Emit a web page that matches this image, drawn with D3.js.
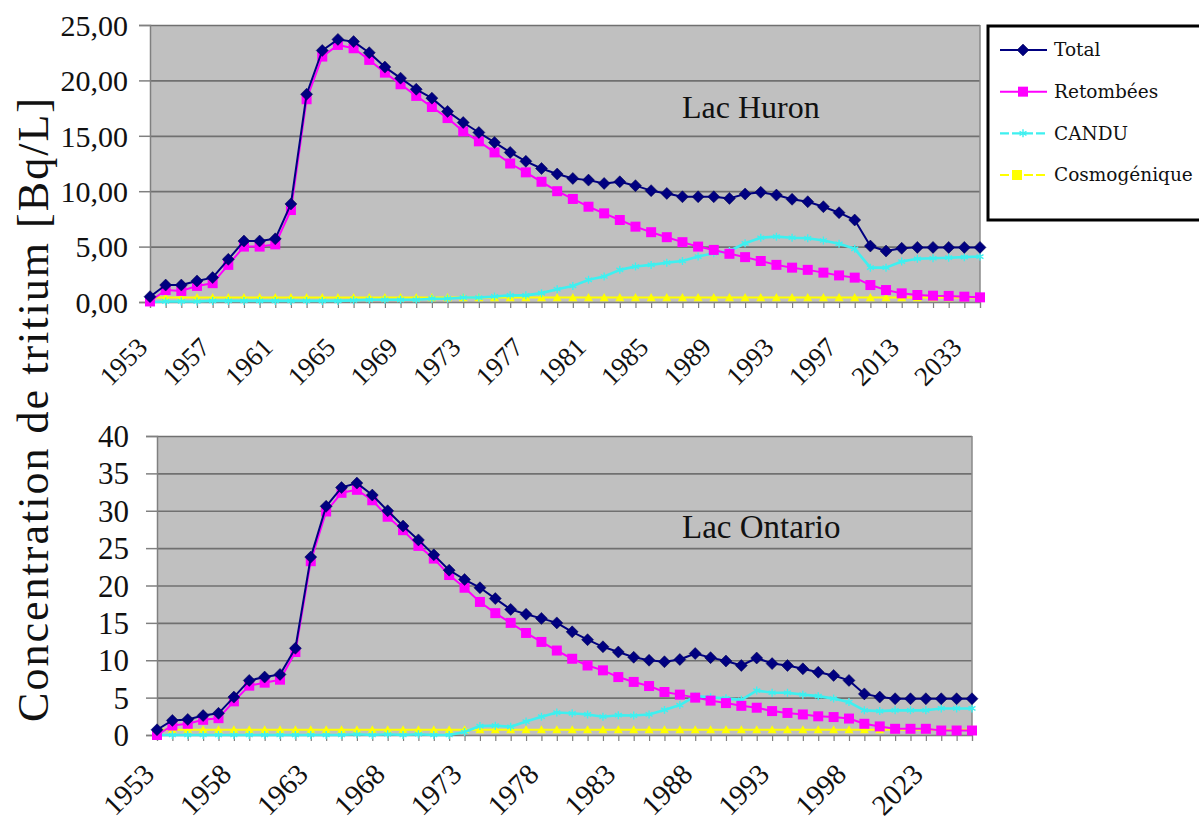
<!DOCTYPE html>
<html>
<head>
<meta charset="utf-8">
<script src="https://cdn.jsdelivr.net/npm/d3@7"></script>
<style>
  html, body { margin: 0; padding: 0; background: #ffffff; overflow: hidden; }
  svg { display: block; }
</style>
</head>
<body>
<svg id="chart" width="1199" height="829"></svg>
<script>
// ---------------- DATA ----------------
const years = ["1953","1954","1955","1956","1957","1958","1959","1960","1961","1962",
  "1963","1964","1965","1966","1967","1968","1969","1970","1971","1972",
  "1973","1974","1975","1976","1977","1978","1979","1980","1981","1982",
  "1983","1984","1985","1986","1987","1988","1989","1990","1991","1992",
  "1993","1994","1995","1996","1997","1998","2003","2008","2013","2018",
  "2023","2028","2033","2038"];

const seriesNames = ["Total", "Retombées", "CANDU", "Cosmogénique"];

// Lac Huron
const huronTotal = [0.48,1.53,1.53,1.9,2.2,3.85,5.5,5.5,5.7,8.85,
  18.75,22.7,23.7,23.5,22.5,21.2,20.2,19.2,18.4,17.2,
  16.2,15.3,14.4,13.5,12.7,12.05,11.55,11.15,11.0,10.7,
  10.85,10.5,10.05,9.8,9.5,9.5,9.5,9.35,9.75,9.9,
  9.65,9.27,9.05,8.6,8.06,7.4,5.05,4.6,4.85,4.93,
  4.93,4.93,4.93,4.93];
const huronRetombees = [0.05,1.08,1.0,1.45,1.7,3.35,5.0,5.0,5.2,8.3,
  18.3,22.15,23.2,22.9,21.85,20.7,19.65,18.6,17.6,16.6,
  15.4,14.5,13.5,12.5,11.7,10.85,10.0,9.3,8.6,8.0,
  7.4,6.8,6.3,5.85,5.4,5.0,4.7,4.35,4.05,3.7,
  3.35,3.1,2.9,2.65,2.4,2.2,1.53,1.08,0.78,0.63,
  0.57,0.55,0.48,0.42];
const huronCandu = [0,0.05,0.05,0.05,0.1,0.1,0.1,0.1,0.1,0.1,
  0.1,0.1,0.1,0.15,0.2,0.2,0.2,0.2,0.3,0.3,
  0.4,0.4,0.5,0.6,0.6,0.8,1.15,1.45,2.0,2.3,
  2.9,3.2,3.35,3.55,3.7,4.1,4.4,4.6,5.3,5.8,
  5.9,5.8,5.75,5.55,5.25,4.8,3.1,3.1,3.65,3.9,
  3.95,4.0,4.05,4.1];
const huronCosmo = [0.4,0.4,0.4,0.4,0.4,0.4,0.4,0.4,0.4,0.4,
  0.4,0.4,0.4,0.4,0.4,0.4,0.4,0.4,0.4,0.4,
  0.4,0.4,0.4,0.4,0.4,0.4,0.4,0.4,0.4,0.4,
  0.4,0.4,0.4,0.4,0.4,0.4,0.4,0.4,0.4,0.4,
  0.4,0.4,0.4,0.4,0.4,0.4,0.4,0.4,0.4,0.4,
  0.4,0.4,0.4,0.4];

// Lac Ontario
const ontarioTotal = [0.7,1.95,2.08,2.6,2.9,5.07,7.3,7.75,8.1,11.6,
  23.8,30.6,33.1,33.7,32.1,30.0,27.95,26.1,24.1,22.05,
  20.8,19.7,18.25,16.8,16.15,15.6,15.0,13.8,12.75,11.8,
  11.1,10.4,10.0,9.8,10.1,10.9,10.35,9.9,9.3,10.3,
  9.55,9.3,8.85,8.4,7.97,7.3,5.5,5.07,4.85,4.85,
  4.85,4.85,4.85,4.85];
const ontarioRetombees = [0.0,1.27,1.5,2.03,2.25,4.5,6.6,7.0,7.4,11.1,
  23.25,29.9,32.4,32.8,31.4,29.2,27.4,25.3,23.6,21.4,
  19.7,17.8,16.3,15.0,13.65,12.45,11.3,10.2,9.3,8.65,
  7.75,7.1,6.55,5.75,5.4,5.0,4.6,4.27,3.9,3.65,
  3.2,2.95,2.75,2.5,2.4,2.2,1.5,1.15,0.83,0.83,
  0.83,0.6,0.6,0.6];
const ontarioCandu = [0,0,0,0,0,0,0,0,0,0,
  0,0,0,0.1,0,0.1,0,0.1,0,0,
  0.4,1.2,1.25,1.1,1.8,2.45,3.0,2.9,2.75,2.45,
  2.65,2.6,2.75,3.35,4.0,5.2,5.05,4.9,4.7,5.95,
  5.65,5.65,5.4,5.2,4.87,4.4,3.3,3.2,3.3,3.3,
  3.3,3.55,3.55,3.55];
const ontarioCosmo = [0.7,0.7,0.7,0.7,0.7,0.7,0.7,0.7,0.7,0.7,
  0.7,0.7,0.7,0.7,0.7,0.7,0.7,0.7,0.7,0.7,
  0.7,0.7,0.7,0.7,0.7,0.7,0.7,0.7,0.7,0.7,
  0.7,0.7,0.7,0.7,0.7,0.7,0.7,0.7,0.7,0.7,
  0.7,0.7,0.7,0.7,0.7,0.7,0.7,0.7,0.7,0.7,
  0.7,0.7,0.7,0.7];

const huronYTicks = [0, 5, 10, 15, 20, 25];
const ontarioYTicks = [0, 5, 10, 15, 20, 25, 30, 35, 40];
const huronXLabelEvery = 4;
const ontarioXLabelEvery = 5;

const yTitle = "Concentration de tritium [Bq/L]";

// ---------------- STYLE ----------------
const colors = { "Total": "#000080", "Retombées": "#ff00ff", "CANDU": "#3ef0f0", "Cosmogénique": "#ffff00" };
const serif = "'Liberation Serif', 'Times New Roman', serif";

const svg = d3.select("#chart");

function diamondPath(r) { return `M0,${-r}L${r},0L0,${r}L${-r},0Z`; }
function squarePath(r) { return `M${-r},${-r}H${r}V${r}H${-r}Z`; }
function trianglePath(r) { return `M0,${-r}L${r},${r*0.8}L${-r},${r*0.8}Z`; }
function starPath(r) {
  const a = r * 0.866, b = r * 0.5;
  return `M0,${-r}V${r}M${-a},${-b}L${a},${b}M${-a},${b}L${a},${-b}`;
}

function drawMarker(g, name, x, y, legend) {
  if (name === "Total") {
    g.append("path").attr("d", diamondPath(6)).attr("transform", `translate(${x},${y})`)
      .attr("fill", colors[name]).attr("stroke", "#000050").attr("stroke-width", 0.5);
  } else if (name === "Retombées") {
    g.append("path").attr("d", squarePath(5)).attr("transform", `translate(${x},${y})`)
      .attr("fill", colors[name]);
  } else if (name === "CANDU") {
    g.append("path").attr("d", starPath(4)).attr("transform", `translate(${x},${y})`)
      .attr("fill", "none").attr("stroke", colors[name]).attr("stroke-width", 1.4);
  } else {
    g.append("path").attr("d", legend ? squarePath(5) : trianglePath(4.5)).attr("transform", `translate(${x},${y})`)
      .attr("fill", colors[name]);
  }
}

function drawPanel(cfg) {
  const x = d3.scalePoint().domain(years).range([cfg.x0, cfg.x1]);
  const y = d3.scaleLinear().domain([0, cfg.yMax]).range([cfg.yBottom, cfg.yTop]);
  const g = svg.append("g");

  g.append("rect").attr("x", cfg.x0).attr("y", cfg.yTop)
    .attr("width", cfg.x1 - cfg.x0).attr("height", cfg.yBottom - cfg.yTop)
    .attr("fill", "#c0c0c0");

  const grid = g.append("g").attr("transform", `translate(${cfg.x0},0)`)
    .call(d3.axisLeft(y).tickValues(cfg.yTicks).tickSize(-(cfg.x1 - cfg.x0)).tickFormat(""));
  grid.select(".domain").remove();
  grid.selectAll("line").attr("stroke", "#707070").attr("stroke-width", 1.7);

  g.append("line").attr("x1", cfg.x1).attr("x2", cfg.x1).attr("y1", cfg.yTop).attr("y2", cfg.yBottom)
    .attr("stroke", "#8a8a8a").attr("stroke-width", 1.5);

  const ya = g.append("g").attr("transform", `translate(${cfg.x0},0)`)
    .call(d3.axisLeft(y).tickValues(cfg.yTicks).tickSize(11).tickPadding(11).tickFormat(cfg.fmt));
  ya.select(".domain").attr("stroke", "#808080").attr("stroke-width", 1.5);
  ya.selectAll(".tick line").attr("stroke", "#808080").attr("stroke-width", 1.5);
  ya.selectAll(".tick text").attr("font-family", serif).attr("font-size", cfg.yFont)
    .attr("fill", "#111").attr("x", cfg.yLabelX - cfg.x0).attr("dy", "0.34em");

  const xa = g.append("g").attr("transform", `translate(0,${cfg.yBottom})`)
    .call(d3.axisBottom(x).tickSize(6).tickFormat(""));
  xa.select(".domain").attr("stroke", "#808080").attr("stroke-width", 1.2);
  xa.selectAll(".tick line").attr("stroke", "#808080").attr("stroke-width", 1.2);

  const labelYears = years.filter((d, i) => i % cfg.every === 0);
  g.append("g").selectAll("text").data(labelYears).join("text")
    .attr("transform", d => `translate(${x(d) + cfg.lblDx},${cfg.yBottom + cfg.lblDy}) rotate(-45)`)
    .attr("text-anchor", "end")
    .attr("font-family", serif).attr("font-size", cfg.xFont).attr("fill", "#111")
    .text(d => d);

  const order = ["Cosmogénique", "CANDU", "Retombées", "Total"];
  const lineGen = d3.line().x((d, i) => x(years[i])).y(d => y(d));
  order.forEach(name => {
    const vals = cfg.data[name];
    const sg = g.append("g");
    sg.append("path").attr("d", lineGen(vals)).attr("fill", "none")
      .attr("stroke", colors[name])
      .attr("stroke-width", name === "CANDU" ? 2.6 : 2)
      .attr("stroke-linejoin", "round");
    vals.forEach((v, i) => drawMarker(sg, name, x(years[i]), y(v), false));
  });

  g.append("text").attr("x", cfg.titleX).attr("y", cfg.titleY)
    .attr("font-family", serif).attr("font-size", cfg.titleFont).attr("fill", "#111")
    .text(cfg.title);
}

drawPanel({
  x0: 150, x1: 980, yTop: 25, yBottom: 302, yMax: 25, yTicks: huronYTicks,
  fmt: d => d3.format(".2f")(d).replace(".", ","), yFont: 30, yLabelX: 128,
  every: huronXLabelEvery, xFont: 27, lblDx: -1, lblDy: 47,
  data: { "Total": huronTotal, "Retombées": huronRetombees, "CANDU": huronCandu, "Cosmogénique": huronCosmo },
  title: "Lac Huron", titleX: 682, titleY: 118, titleFont: 32
});

drawPanel({
  x0: 157, x1: 972, yTop: 436, yBottom: 735, yMax: 40, yTicks: ontarioYTicks,
  fmt: d => String(d), yFont: 31, yLabelX: 129,
  every: ontarioXLabelEvery, xFont: 29, lblDx: -1, lblDy: 41,
  data: { "Total": ontarioTotal, "Retombées": ontarioRetombees, "CANDU": ontarioCandu, "Cosmogénique": ontarioCosmo },
  title: "Lac Ontario", titleX: 682, titleY: 538, titleFont: 33
});

svg.append("text")
  .attr("transform", "translate(48,410) rotate(-90)")
  .attr("text-anchor", "middle")
  .attr("font-family", serif).attr("font-size", 44).attr("fill", "#111")
  .attr("textLength", 624).attr("lengthAdjust", "spacing")
  .text(yTitle);

const lg = svg.append("g");
lg.append("rect").attr("x", 988).attr("y", 26).attr("width", 250).attr("height", 194)
  .attr("fill", "#ffffff").attr("stroke", "#000").attr("stroke-width", 3);
const legendY = d3.scalePoint().domain(seriesNames).range([50, 175]);
seriesNames.forEach(name => {
  const yy = legendY(name);
  lg.append("line").attr("x1", 1000).attr("x2", 1047).attr("y1", yy).attr("y2", yy)
    .attr("stroke", colors[name]).attr("stroke-width", name === "CANDU" ? 2.4 : 2)
    .attr("stroke-dasharray", name === "CANDU" || name === "Cosmogénique" ? "9,3" : null);
  drawMarker(lg, name, name === "Cosmogénique" ? 1017 : 1023, yy, true);
  lg.append("text").attr("x", 1054).attr("y", yy).attr("dy", "0.35em")
    .attr("font-family", "'DejaVu Serif', serif").attr("font-size", 18.5).attr("fill", "#111")
    .text(name);
});
</script>
</body>
</html>
